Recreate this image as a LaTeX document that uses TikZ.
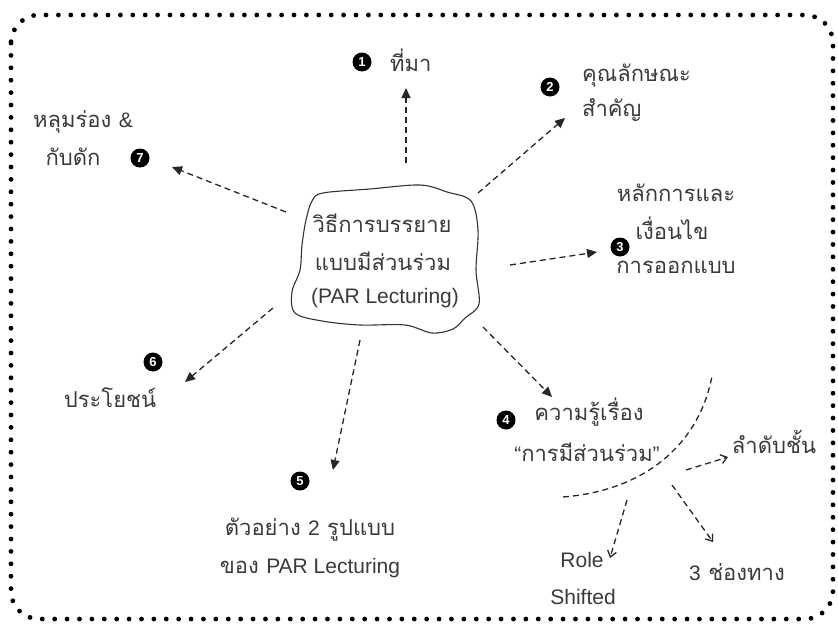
\documentclass[tikz,border=0pt]{standalone}
\usepackage{fontspec}
\setmainfont{Loma}[Script=Thai]
\newfontfamily\latfont{Liberation Sans}
\usetikzlibrary{arrows.meta}
\definecolor{txt}{HTML}{3A3A3A}
\newcommand{\lt}[1]{{\latfont\fontsize{21}{25}\selectfont #1}}
\tikzset{
  lbl/.style={font=\fontsize{22}{26}\selectfont, text=txt, inner sep=0pt, align=center},
  bul/.style={circle, fill=black, text=white, inner sep=0pt, minimum size=19pt, font=\latfont\fontsize{13}{13}\selectfont\bfseries},
  dashline/.style={line width=1.3pt, dash pattern=on 6pt off 4pt, draw=black!85},
  solidarr/.style={dashline, -{Triangle[length=10pt,width=9pt]}},
  openarr/.style={dashline, -{Straight Barb[length=6pt,width=9pt,line width=1.3pt]}},
  dotframe/.style={line width=4.8pt, line cap=round, dash pattern=on 0pt off 12.4pt, draw=black}
}
\begin{document}
\begin{tikzpicture}[x=1pt,y=-1pt]
\useasboundingbox (0,0) rectangle (838,629);
\draw[dotframe, rounded corners=28pt] (11,15) rectangle (833,619);

% central cloud
\draw[line width=1.1pt, black!80] plot[smooth cycle, tension=0.55] coordinates {
 (323,193) (370,189) (420,185) (447,192) (471,201) (478,230) (476,270)
 (479,304) (465,318) (453,329) (432,333) (405,325) (360,325) (322,321)
 (295,313) (292,292) (300,270) (302,245) (306,220) (312,201)};
\node[lbl] (c1) at (382,223) {วิธีการบรรยาย};
\node[lbl] (c2) at (383,261) {แบบมีส่วนร่วม};
\node[lbl] (c3) at (385,298) {\lt{(PAR Lecturing)}};

% 1
\node[bul] (b1) at (362,62) {1};
\node[lbl, anchor=west] (t1) at (390,60) {ที่มา};
% 2
\node[bul] (b2) at (550,87) {2};
\node[lbl, anchor=west] (t2a) at (582,76) {คุณลักษณะ};
\node[lbl, anchor=west] (t2b) at (582,110) {สำคัญ};
% 3
\node[lbl] (t3a) at (676,193) {หลักการและ};
\node[lbl] (t3b) at (672,228) {เงื่อนไข};
\node[bul] (b3) at (620,247) {3};
\node[lbl] (t3c) at (676,267) {การออกแบบ};
% 4
\node[bul] (b4) at (506,420) {4};
\node[lbl] (t4a) at (589,412) {ความรู้เรื่อง};
\node[lbl] (t4b) at (587,452) {\lt{“}การมีส่วนร่วม\lt{”}};
% 5
\node[bul] (b5) at (300,481) {5};
\node[lbl] (t5a) at (310,530) {ตัวอย่าง \lt{2} รูปแบบ};
\node[lbl] (t5b) at (310,568) {ของ \lt{PAR Lecturing}};
% 6
\node[bul] (b6) at (153,362) {6};
\node[lbl] (t6) at (110,398) {ประโยชน์};
% 7
\node[lbl, anchor=west] (t7a) at (33,122) {หลุมร่อง \lt{\&}};
\node[lbl] (t7b) at (73,157) {กับดัก};
\node[bul] (b7) at (140,158) {7};
% sub items
\node[lbl] (s1) at (774,442) {ลำดับชั้น};
\node[lbl] (s2) at (737,572) {\lt{3} ช่องทาง};
\node[lbl] (s3a) at (582,560) {\lt{Role}};
\node[lbl] (s3b) at (583,597) {\lt{Shifted}};

% connector end points
\coordinate (a1s) at (406,163); \coordinate (a1e) at (406,88);
\coordinate (a2s) at (478,193); \coordinate (a2e) at (565,118);
\coordinate (a3s) at (510,265); \coordinate (a3e) at (597,252);
\coordinate (a4s) at (483,327); \coordinate (a4e) at (552,397);
\coordinate (a5s) at (360,340); \coordinate (a5e) at (333,470);
\coordinate (a6s) at (273,308); \coordinate (a6e) at (185,382);
\coordinate (a7s) at (286,212); \coordinate (a7e) at (172,167);

\draw[solidarr] (a1s) -- (a1e);
\draw[solidarr] (a2s) -- (a2e);
\draw[solidarr] (a3s) -- (a3e);
\draw[solidarr] (a4s) -- (a4e);
\draw[solidarr] (a5s) -- (a5e);
\draw[solidarr] (a6s) -- (a6e);
\draw[solidarr] (a7s) -- (a7e);

% arc
\coordinate (arcs) at (563,497); \coordinate (arce) at (712,376);
\draw[dashline] (arcs) .. controls (650,490) and (700,440) .. (arce);

\coordinate (o1s) at (686,470); \coordinate (o1e) at (728,457);
\coordinate (o2s) at (672,485); \coordinate (o2e) at (713,542);
\coordinate (o3s) at (627,500); \coordinate (o3e) at (610,558);
\draw[openarr] (o1s) -- (o1e);
\draw[openarr] (o2s) -- (o2e);
\draw[openarr] (o3s) -- (o3e);
\end{tikzpicture}
\end{document}
